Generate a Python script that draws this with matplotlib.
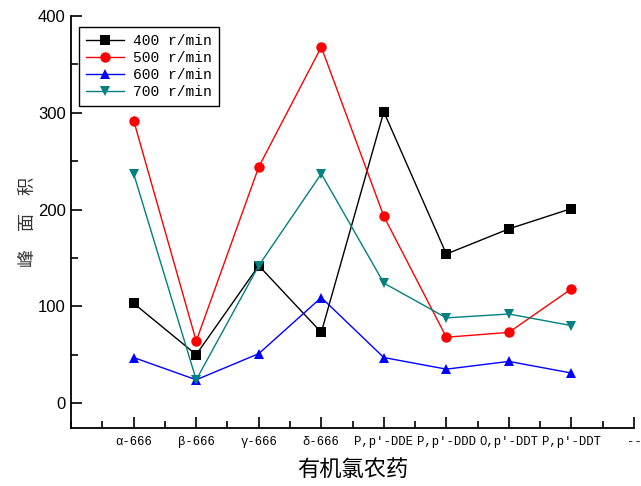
import matplotlib
matplotlib.use("Agg")
import matplotlib.pyplot as plt
import numpy as np
from matplotlib.ticker import MultipleLocator

# categories on the x axis (last one is cut off by the figure edge)
categories = ["α-666", "β-666", "γ-666", "δ-666", "P,p'-DDE",
              "P,p'-DDD", "O,p'-DDT", "P,p'-DDT"]
tick_labels = categories + ["--"]

# peak areas per stirring speed
speed_400 = [103, 50, 142, 73, 301, 154, 180, 201]
speed_500 = [292, 64, 244, 368, 193, 68, 73, 118]
speed_600 = [47, 24, 51, 109, 47, 35, 43, 31]
speed_700 = [237, 24, 142, 237, 124, 88, 92, 80]

series = [
    ("400 r/min", speed_400, "#000000", "s"),
    ("500 r/min", speed_500, "#ff0000", "o"),
    ("600 r/min", speed_600, "#0000ff", "^"),
    ("700 r/min", speed_700, "#008080", "v"),
]

cjk = ["Noto Sans CJK SC", "DejaVu Sans"]

fig = plt.figure(figsize=(6.41, 4.86), dpi=100)
ax = fig.add_axes([0.111, 0.119, 0.878, 0.848])

x = np.arange(1, len(categories) + 1)
for label, vals, color, marker in series:
    ax.plot(x, vals, color=color, linewidth=1.0, marker=marker,
            markersize=7.5, markeredgewidth=0, label=label)

ax.set_xlim(0, 9)
ax.set_ylim(-26, 400)
ax.set_xticks(np.arange(1, len(tick_labels) + 1))
ax.set_xticklabels(tick_labels, family="Liberation Mono", fontsize=8.8)
ax.xaxis.set_minor_locator(MultipleLocator(0.5))
ax.set_yticks([0, 100, 200, 300, 400])
ax.yaxis.set_minor_locator(MultipleLocator(50))
for lab in ax.get_yticklabels():
    lab.set_family("Liberation Sans")
    lab.set_fontsize(12)

ax.tick_params(which="major", direction="in", length=8, width=1.2, pad=6)
ax.tick_params(which="minor", direction="in", length=5, width=1.2)
ax.tick_params(axis="y", which="both", pad=4)

for side in ("top", "right"):
    ax.spines[side].set_visible(False)
for side in ("left", "bottom"):
    ax.spines[side].set_linewidth(1.3)

ax.set_xlabel("有机氯农药", family=cjk, fontsize=16)
ax.xaxis.set_label_coords(0.5, -0.072)
ax.set_ylabel("峰\u3000面\u3000积", family=cjk, fontsize=13, color="#333333")
ax.yaxis.set_label_coords(-0.06, 0.5)

leg = ax.legend(loc="upper left", bbox_to_anchor=(0.014, 0.973),
                borderaxespad=0, fancybox=False, framealpha=1,
                edgecolor="black", prop={"family": "Liberation Mono", "size": 10.5},
                handlelength=2.6, labelspacing=0.2, borderpad=0.5,
                handletextpad=0.6)
leg.get_frame().set_linewidth(1.0)

fig.savefig("out.png", dpi=100)
